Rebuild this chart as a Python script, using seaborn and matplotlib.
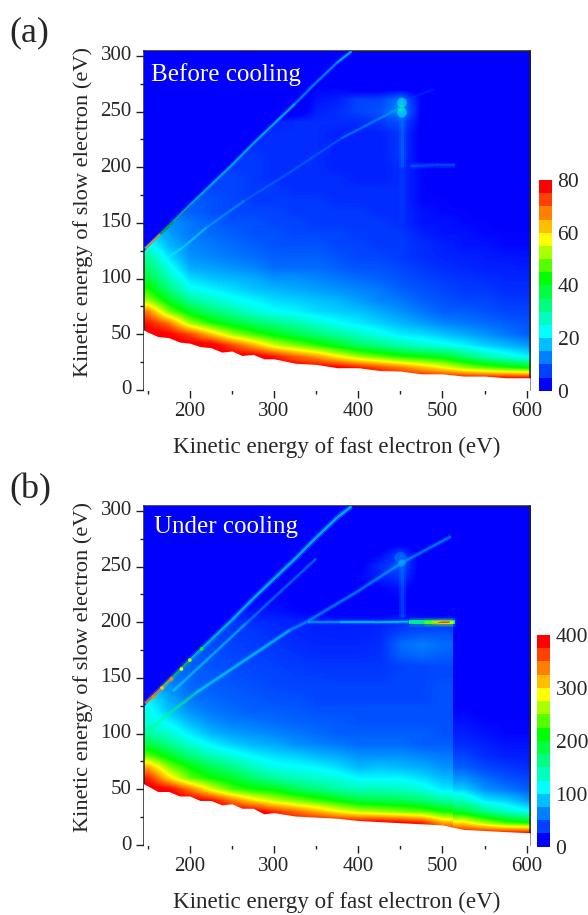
import numpy as np
import matplotlib
matplotlib.use('Agg')
import matplotlib.pyplot as plt
from matplotlib.colors import ListedColormap, LinearSegmentedColormap, Normalize
from matplotlib.transforms import Affine2D
import seaborn as sns

# Grid of the read-off intensities (cell centres in eV)
fast_energy = [150, 175, 200, 225, 250, 275, 300, 325, 350, 375, 400, 425, 450, 475, 500, 525, 550, 575, 600]
slow_energy = list(range(0, 310, 10))

# rows go from slow energy 0 to 300
counts_before = [
    [80, 80, 80, 80, 80, 80, 80, 80, 80, 80, 80, 80, 80, 80, 80, 80, 80, 80, 80],
    [80, 80, 80, 80, 80, 80, 80, 80, 80, 80, 80, 80, 80, 80, 80, 80, 80, 80, 80],
    [80, 80, 80, 80, 80, 80, 80, 80, 80, 79, 76, 72, 68, 63, 58, 52, 48, 45, 42],
    [80, 80, 80, 80, 80, 80, 76, 70, 65, 58, 52, 48, 44, 42, 40, 34, 29, 25, 22],
    [80, 80, 80, 80, 72, 64, 55, 50, 45, 40, 35, 32, 29, 26, 24, 22, 19, 17, 15],
    [80, 78, 72, 62, 52, 46, 41, 37, 33, 30, 27, 24, 21, 20, 18, 16, 14, 12, 10],
    [76, 68, 52, 44, 39, 35, 32, 29, 26, 23, 21, 19, 17, 15, 13, 12, 11, 10, 9],
    [68, 50, 40, 34, 30, 26, 23, 22, 20, 19, 18, 16, 14, 12, 10, 10, 9, 8, 8],
    [52, 40, 31, 27, 24, 22, 20, 19, 18, 17, 15, 13, 12, 10, 9, 8, 8, 7, 7],
    [44, 33, 24, 22, 20, 18, 17, 16, 15, 14, 13, 12, 10, 9, 8, 7, 7, 6, 6],
    [38, 28, 20, 18, 17, 16, 14, 14, 13, 12, 11, 10, 9, 8, 7, 6.5, 6, 5.5, 5.5],
    [34, 24, 16, 15, 14, 13, 11, 11, 11, 10, 9, 9, 8, 7, 6, 5.5, 5, 5, 4.6],
    [30, 20, 14, 13, 12, 11, 10, 10, 10, 9, 8, 8, 7, 6, 5.4, 5, 4.6, 4.2, 4],
    [24, 17, 13, 12, 11, 10, 9, 9, 9, 8, 8, 7, 7, 6, 5, 4, 4, 3, 3],
    [20, 15, 12, 11, 10, 9, 9, 8, 8, 8, 7, 7, 7, 5, 4, 4, 3, 3, 3],
    [18, 14, 12, 10, 9, 9, 8, 8, 7, 7, 7, 7, 6, 4, 4, 3, 3, 2, 2],
    [12, 11, 10, 9, 8, 8, 8, 7, 7, 7, 7, 6, 6, 4, 3, 3, 2, 2, 2],
    [10, 10, 10, 9, 8, 7, 7, 7, 7, 6, 6, 6, 6, 3, 3, 2, 2, 2, 1],
    [10, 10, 10, 8, 8, 7, 7, 6, 6, 6, 6, 6, 6, 3, 2, 2, 2, 1, 1],
    [8, 8, 8, 8, 8, 7, 6, 6, 6, 6, 5, 5, 6, 3, 2, 2, 1, 1, 1],
    [7, 7, 7, 7, 7, 7, 6, 6, 6, 5, 5, 5, 6, 3, 2, 1, 1, 1, 1],
    [7, 7, 7, 7, 7, 7, 6, 6, 6, 5, 5, 5, 7, 2, 1, 1, 1, 0, 0],
    [6, 6, 6, 6, 6, 6, 6, 6, 6, 5, 5, 5, 7, 2, 1, 1, 1, 0, 0],
    [6, 6, 6, 6, 6, 6, 6, 6, 6, 5, 5, 5, 7, 2, 1, 1, 0, 0, 0],
    [0, 0, 0, 0, 0, 0, 5, 6, 6, 6, 6, 7, 9, 2, 1, 0, 0, 0, 0],
    [0, 0, 0, 0, 0, 0, 0, 0, 5, 6, 8, 9, 14, 2, 1, 0, 0, 0, 0],
    [0, 0, 0, 0, 0, 0, 0, 0, 4, 5, 8, 8, 12, 2, 0, 0, 0, 0, 0],
    [0, 0, 0, 0, 0, 0, 0, 0, 3, 3, 1, 1, 2, 1, 0, 0, 0, 0, 0],
    [0, 0, 0, 0, 0, 0, 0, 0, 2, 1, 0, 0, 0, 0, 0, 0, 0, 0, 0],
    [0, 0, 0, 0, 0, 0, 0, 0, 2, 1, 0, 0, 0, 0, 0, 0, 0, 0, 0],
    [0, 0, 0, 0, 0, 0, 0, 0, 0, 0, 0, 0, 0, 0, 0, 0, 0, 0, 0],
]

counts_under = [
    [400, 400, 400, 400, 400, 400, 400, 400, 400, 400, 400, 400, 400, 400, 400, 400, 400, 400, 400],
    [400, 400, 400, 400, 400, 400, 400, 400, 400, 400, 400, 400, 400, 400, 400, 400, 400, 400, 400],
    [400, 400, 400, 400, 400, 400, 400, 400, 400, 400, 400, 400, 390, 375, 320, 300, 260, 230, 215],
    [400, 400, 400, 400, 400, 400, 370, 345, 320, 290, 270, 260, 250, 240, 215, 195, 160, 135, 118],
    [400, 400, 400, 385, 340, 300, 270, 250, 230, 210, 190, 185, 180, 170, 150, 140, 105, 95, 75],
    [400, 390, 340, 280, 235, 215, 205, 180, 165, 150, 140, 140, 135, 125, 105, 95, 70, 60, 50],
    [375, 300, 240, 215, 195, 170, 150, 140, 130, 125, 110, 110, 110, 100, 85, 70, 55, 45, 40],
    [320, 250, 210, 180, 160, 135, 120, 115, 110, 100, 85, 90, 85, 80, 70, 50, 40, 35, 30],
    [240, 200, 165, 140, 125, 110, 100, 95, 85, 80, 70, 70, 70, 65, 60, 40, 30, 25, 25],
    [190, 160, 130, 110, 95, 85, 80, 70, 65, 60, 55, 55, 55, 50, 50, 30, 25, 20, 20],
    [150, 130, 105, 85, 75, 70, 65, 60, 55, 50, 50, 50, 50, 50, 45, 25, 20, 15, 15],
    [125, 110, 85, 70, 62, 60, 55, 52, 50, 48, 45, 45, 45, 45, 45, 20, 15, 15, 15],
    [120, 90, 70, 60, 55, 50, 50, 48, 45, 45, 45, 45, 45, 45, 45, 15, 12, 10, 10],
    [110, 80, 60, 55, 50, 48, 45, 45, 40, 40, 40, 40, 40, 40, 45, 12, 10, 8, 8],
    [90, 70, 55, 50, 48, 45, 42, 40, 40, 40, 40, 40, 40, 40, 45, 10, 8, 5, 5],
    [70, 60, 52, 48, 45, 42, 40, 38, 38, 36, 36, 36, 40, 40, 42, 8, 5, 3, 3],
    [65, 58, 50, 46, 42, 40, 38, 36, 34, 34, 34, 34, 38, 40, 42, 5, 3, 2, 2],
    [60, 55, 48, 44, 40, 38, 36, 33, 30, 30, 30, 32, 50, 55, 50, 3, 2, 0, 0],
    [55, 50, 45, 42, 38, 36, 34, 30, 28, 28, 28, 30, 55, 62, 55, 0, 0, 0, 0],
    [50, 45, 42, 40, 36, 35, 30, 28, 26, 25, 25, 28, 40, 45, 45, 0, 0, 0, 0],
    [40, 40, 40, 38, 34, 30, 28, 26, 25, 25, 25, 25, 30, 30, 30, 0, 0, 0, 0],
    [20, 20, 20, 20, 20, 20, 20, 15, 10, 8, 5, 5, 10, 3, 0, 0, 0, 0, 0],
    [15, 15, 15, 15, 15, 15, 15, 12, 10, 8, 8, 10, 15, 3, 0, 0, 0, 0, 0],
    [10, 10, 10, 10, 10, 10, 10, 10, 10, 10, 12, 14, 20, 4, 0, 0, 0, 0, 0],
    [0, 0, 0, 0, 0, 0, 8, 10, 10, 10, 15, 25, 35, 5, 0, 0, 0, 0, 0],
    [0, 0, 0, 0, 0, 0, 0, 5, 8, 8, 10, 30, 45, 5, 0, 0, 0, 0, 0],
    [0, 0, 0, 0, 0, 0, 0, 0, 5, 5, 5, 15, 40, 5, 0, 0, 0, 0, 0],
    [0, 0, 0, 0, 0, 0, 0, 0, 0, 0, 0, 5, 10, 0, 0, 0, 0, 0, 0],
    [0, 0, 0, 0, 0, 0, 0, 0, 0, 0, 0, 0, 0, 0, 0, 0, 0, 0, 0],
    [0, 0, 0, 0, 0, 0, 0, 0, 0, 0, 0, 0, 0, 0, 0, 0, 0, 0, 0],
    [0, 0, 0, 0, 0, 0, 0, 0, 0, 0, 0, 0, 0, 0, 0, 0, 0, 0, 0],
]

# lower edge of the data (white below)
edge_x_before = [145, 150, 162, 175, 188, 200, 212, 225, 238, 250, 262, 275, 288, 300, 325, 350, 375, 400, 425, 450, 475, 500, 525, 550, 575, 604]
edge_y_before = [54, 52, 48, 47, 43, 42, 39, 38, 34, 35, 31, 32, 28, 28, 24, 23, 20, 20, 17.5, 17, 14.5, 14.5, 12.5, 12.5, 11, 11]
edge_x_under = [145, 150, 162, 175, 188, 200, 212, 225, 238, 250, 262, 275, 288, 300, 325, 350, 375, 400, 425, 450, 475, 500, 512, 525, 550, 575, 604]
edge_y_under = [55, 53, 48, 48, 44, 44, 40, 40, 36, 37, 33, 33, 28, 29, 26, 25, 24, 22, 21, 20, 19, 18, 16, 14, 13, 12, 11]

# upper edge of the data (solid blue above)
top_x = [145, 392]
top_y = [125, 305]

# ridges: fast energy, slow energy, intensity
diag_x = [147, 165, 180, 200, 225, 250, 275, 300, 325, 350, 375, 392]
diag_y = [127, 140, 151, 166, 184, 202, 221, 239, 257, 276, 294, 304]
diag_v_before = [60, 50, 35, 30, 25, 24, 22, 22, 20, 16, 18, 22]
diag_v_under = [330, 280, 220, 150, 130, 120, 110, 110, 110, 100, 110, 125]

line_x_before = [165, 192, 220, 265, 318, 380, 449]
line_y_before = [115, 128, 146, 170, 195, 226, 253]
line_v_before = [24, 22, 20, 15, 14, 14, 20]

wall_x_before = [452, 452, 452, 452]
wall_y_before = [150, 200, 235, 262]
wall_v_before = [7, 9, 12, 14]

step_x_before = [462, 490, 515]
step_y_before = [201, 202, 202]
step_v_before = [13, 12, 9]

stub_x_before = [462, 490]
stub_y_before = [262, 270]
stub_v_before = [9, 7]

line_x_under = [180, 267, 350]
line_y_under = [138, 199, 257]
line_v_under = [130, 100, 60]

long_x_under = [150, 208, 319, 338, 400, 451, 510]
long_y_under = [103, 137, 193, 200, 228, 253, 277]
long_v_under = [190, 130, 90, 85, 85, 100, 70]

wall_x_under = [452, 452, 452]
wall_y_under = [205, 230, 250]
wall_v_under = [50, 65, 75]

# the bright tail at 200 eV, from its faint start to its hot end
tail_x_under = [340, 378, 420, 460]
tail_y_under = [200, 200, 200, 200.5]
tail_v_under = [70, 90, 120, 160]
glow_x_under = [460, 480, 515]
glow_y_under = [200.5, 200.5, 200.5]
glow_v_under = [150, 170, 170]
warm_x_under = [478, 495, 512]
warm_y_under = [200.5, 200.5, 200.5]
warm_v_under = [215, 250, 250]
hot_x_under = [488, 498, 509]
hot_y_under = [200.5, 200.5, 200.5]
hot_v_under = [300, 340, 340]
core_x_under = [495, 507]
core_y_under = [200.5, 200.5]
core_v_under = [370, 370]

# hot spots: fast energy, slow energy, intensity
spot_x_before = [452, 452, 451]
spot_y_before = [258, 249, 253]
spot_v_before = [20, 20, 30]
spot_x_under = [450, 452]
spot_y_under = [258, 253]
spot_v_under = [70, 95]
dots_x_under = [157, 167, 178, 190, 200, 214]
dots_y_under = [133, 141, 149, 158, 166, 176]
dots_v_under = [340, 310, 340, 280, 250, 200]

rainbow = ['#0000ff', '#0040ff', '#0080ff', '#00bfff', '#00ffff', '#00ffbf', '#00ff80', '#00ff40',
           '#00ff00', '#55ff00', '#aaff00', '#ffff00', '#ffbf00', '#ff8000', '#ff4000', '#ff0000']
cmap = ListedColormap(rainbow)
# same colours blended between the bin centres: the speckle of the original averages out like this
nodes = [(0, rainbow[0])] + [((i + 0.5) / 16, c) for i, c in enumerate(rainbow)] + [(1, rainbow[-1])]
cmap_smooth = LinearSegmentedColormap.from_list('smooth_rainbow', nodes)

sns.set_style('ticks')
plt.rcParams['font.family'] = ['Liberation Serif', 'DejaVu Serif']

W, H = 588, 915
fig = plt.figure(figsize=(W / 100, H / 100), dpi=100)


def box(left, top, right, bottom):
    return [left / W, 1 - bottom / H, (right - left) / W, (bottom - top) / H]


def draw_ridge(ax, xs, ys, vals, norm, lw=1.3, core=0.6):
    # one short line per pair of read-off points, with a soft glow round it
    for i in range(len(xs) - 1):
        col = cmap(norm((vals[i] + vals[i + 1]) / 2))
        ax.plot(xs[i:i + 2], ys[i:i + 2], color=col, lw=lw * 2.4, alpha=0.22, solid_capstyle='butt', zorder=4)
        ax.plot(xs[i:i + 2], ys[i:i + 2], color=col, lw=lw, alpha=core, solid_capstyle='butt', zorder=5)


def draw_panel(pos, cpos, counts, vmax, cticks, edge_x, edge_y, label, label_xy, split=None):
    ax = fig.add_axes(box(*pos))
    cax = fig.add_axes(box(*cpos))
    counts = np.array(counts, dtype=float)
    sns.heatmap(counts, ax=ax, cbar_ax=cax, cmap=cmap, vmin=0, vmax=vmax, cbar_kws={'ticks': cticks})
    # heatmap works in cell numbers, move the cells on to the eV scale
    ax.collections[0].set_transform(Affine2D().scale(25, 10).translate(137.5, -5) + ax.transData)

    # smooth image on top of the cells, optionally in two parts so a sharp step stays sharp
    parts = [(0, counts.shape[1])] if split is None else [(0, split), (split, counts.shape[1])]
    for a, b in parts:
        ax.imshow(counts[:, a:b], origin='lower', aspect='auto', cmap=cmap_smooth, vmin=0, vmax=vmax,
                  interpolation='bilinear', interpolation_stage='data',
                  extent=(137.5 + a * 25, 137.5 + b * 25, -5, 305), zorder=2)

    ax.fill_between(edge_x, -5, edge_y, color='white', lw=0, zorder=3)
    ax.fill_between(top_x, top_y, 310, color='#0000ff', lw=0, zorder=3)

    ax.set_xlim(145, 604)
    ax.set_ylim(0, 304.6)
    ax.set_xticks(range(200, 601, 100))
    ax.set_xticklabels(range(200, 601, 100), rotation=0)
    ax.set_xticks(range(150, 601, 100), minor=True)
    ax.set_yticks(range(0, 301, 50))
    ax.set_yticklabels(range(0, 301, 50), rotation=0)
    ax.set_yticks(range(25, 301, 50), minor=True)
    ax.tick_params(which='major', length=5.5, width=1, labelsize=15, color='#222222', pad=3, bottom=True, left=True)
    ax.tick_params(which='minor', length=3.2, width=1, color='#222222', bottom=True, left=True)
    for s in ax.spines.values():
        s.set_visible(True)
        s.set_linewidth(1.1)
        s.set_color('#222222')
    ax.set_xlabel('Kinetic energy of fast electron (eV)', fontsize=16.6)
    ax.set_ylabel('Kinetic energy of slow electron (eV)', fontsize=16.1)
    ax.xaxis.set_label_coords(0.5, -0.137)
    ax.yaxis.set_label_coords(-0.131, 0.524)
    ax.text(label_xy[0], label_xy[1], label, color='white', fontsize=18, va='baseline', zorder=8)

    cax.tick_params(length=0, labelsize=15.5, pad=4)
    cax.set_yticklabels([str(t) for t in cticks])
    return ax


norm_a = Normalize(0, 80)
ax_a = draw_panel((143.5, 50.7, 530, 390), (539, 180, 552, 390.7), counts_before, 80, [0, 20, 40, 60, 80],
                  edge_x_before, edge_y_before, 'Before cooling', (153.5, 277))
draw_ridge(ax_a, diag_x, diag_y, diag_v_before, norm_a, lw=1.2)
draw_ridge(ax_a, line_x_before, line_y_before, line_v_before, norm_a, lw=1.0, core=0.4)
draw_ridge(ax_a, wall_x_before, wall_y_before, wall_v_before, norm_a, lw=2.2, core=0.3)
draw_ridge(ax_a, step_x_before, step_y_before, step_v_before, norm_a, lw=1.6, core=0.4)
draw_ridge(ax_a, stub_x_before, stub_y_before, stub_v_before, norm_a, lw=0.9, core=0.35)
ax_a.scatter(spot_x_before, spot_y_before, c=spot_v_before, cmap=cmap, norm=norm_a, s=[50, 50, 24],
             alpha=0.5, linewidths=0, zorder=6)

norm_b = Normalize(0, 400)
ax_b = draw_panel((143.5, 505.7, 530, 845), (537, 635, 550, 846.7), counts_under, 400, [0, 100, 200, 300, 400],
                  edge_x_under, edge_y_under, 'Under cooling', (157, 280), split=15)
draw_ridge(ax_b, diag_x, diag_y, diag_v_under, norm_b, lw=1.6)
draw_ridge(ax_b, line_x_under, line_y_under, line_v_under, norm_b, lw=1.1, core=0.4)
draw_ridge(ax_b, long_x_under, long_y_under, long_v_under, norm_b, lw=1.4, core=0.5)
draw_ridge(ax_b, wall_x_under, wall_y_under, wall_v_under, norm_b, lw=2.2, core=0.3)
draw_ridge(ax_b, tail_x_under, tail_y_under, tail_v_under, norm_b, lw=1.3, core=0.6)
draw_ridge(ax_b, glow_x_under, glow_y_under, glow_v_under, norm_b, lw=2.8, core=0.9)
draw_ridge(ax_b, warm_x_under, warm_y_under, warm_v_under, norm_b, lw=2.2, core=1)
draw_ridge(ax_b, hot_x_under, hot_y_under, hot_v_under, norm_b, lw=1.5, core=1)
draw_ridge(ax_b, core_x_under, core_y_under, core_v_under, norm_b, lw=0.8, core=1)
ax_b.scatter(spot_x_under, spot_y_under, c=spot_v_under, cmap=cmap, norm=norm_b, s=[70, 30],
             alpha=0.5, linewidths=0, zorder=6)
ax_b.scatter(dots_x_under, dots_y_under, c=dots_v_under, cmap=cmap, norm=norm_b, s=7,
             linewidths=0, zorder=6)

fig.text(9 / W, 1 - 41 / H, '(a)', fontsize=26, va='baseline')
fig.text(9 / W, 1 - 498 / H, '(b)', fontsize=26, va='baseline')

fig.savefig('out.png', dpi=100)
